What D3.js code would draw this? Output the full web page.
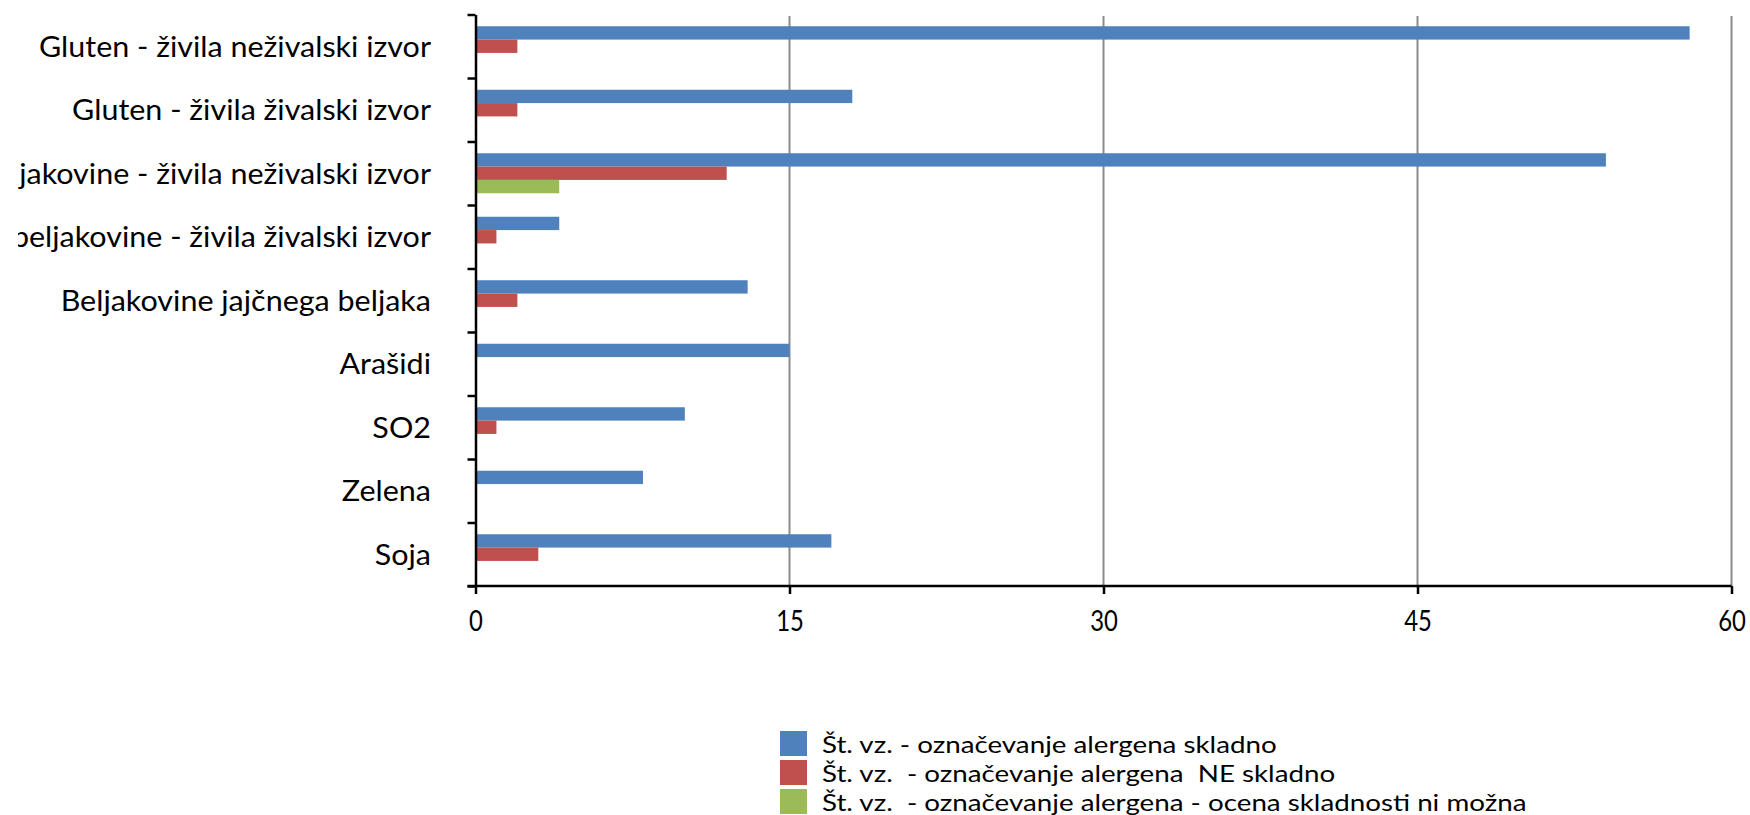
<!DOCTYPE html>
<html>
<head>
<meta charset="utf-8">
<script src="https://cdn.jsdelivr.net/npm/d3@7"></script>
<style>
  html, body { margin: 0; padding: 0; background: #fff; overflow: hidden; }
  svg text { white-space: pre; }
</style>
</head>
<body>
<svg id="chart" width="1750" height="815"></svg>
<script>
// Categories (top to bottom)
const categories = [
  "Gluten - živila neživalski izvor",
  "Gluten - živila živalski izvor",
  "Mlečne beljakovine - živila neživalski izvor",
  "Mlečne beljakovine - živila živalski izvor",
  "Beljakovine jajčnega beljaka",
  "Arašidi",
  "SO2",
  "Zelena",
  "Soja"
];

// Series names (legend order)
const seriesNames = [
  "Št. vz. - označevanje alergena skladno",
  "Št. vz.  - označevanje alergena  NE skladno",
  "Št. vz.  - označevanje alergena - ocena skladnosti ni možna"
];

// Series values, one per category
const skladno   = [58, 18, 54, 4, 13, 15, 10, 8, 17];
const neSkladno = [2, 2, 12, 1, 2, 0, 1, 0, 3];
const niMozna   = [0, 0, 4, 0, 0, 0, 0, 0, 0];

const seriesColors = ["#4F81BD", "#C0504D", "#9BBB59"];

// Value axis
const xDomain = [0, 60];
const xTicks = [0, 15, 30, 45, 60];

const seriesValues = [skladno, neSkladno, niMozna];

const svg = d3.select("#chart");
const FONT = "Lato, 'Open Sans', sans-serif";

const plot = { left: 475.5, right: 1731.5, top: 14.5, bottom: 586 };

const x = d3.scaleLinear().domain(xDomain).range([plot.left, plot.right]);
const y = d3.scaleBand()
  .domain(categories)
  .range([plot.top, plot.bottom])
  .paddingInner(0.37)
  .paddingOuter(0.185);
const ySub = d3.scaleBand().domain(d3.range(seriesNames.length)).range([0, y.bandwidth()]);

// Horizontal squeeze factor so the label font reads as a narrow face
function squeeze(str, size, target) {
  const t = svg.append("text").attr("font-family", FONT).attr("font-size", size).text(str);
  const w = t.node().getComputedTextLength();
  t.remove();
  return target / w;
}
const LABEL_SIZE = 29;
const sx = squeeze(categories[0], LABEL_SIZE, 392);
const TICK_SIZE = 28;
const sxT = squeeze("15", TICK_SIZE, 27.7);

// Clip region for the category labels (long names run off the left edge)
svg.append("defs").append("clipPath").attr("id", "labelClip")
  .append("rect").attr("x", 18).attr("y", 0).attr("width", 1750).attr("height", 815);

// Vertical gridlines
svg.append("g")
  .selectAll("line")
  .data(xTicks.filter(d => d > 0))
  .join("line")
  .attr("x1", d => x(d)).attr("x2", d => x(d))
  .attr("y1", plot.top + 1.5).attr("y2", plot.bottom)
  .attr("stroke", "#8c8c8c")
  .attr("stroke-width", 2);

// Bars
const rows = categories.map((c, i) => ({ cat: c, vals: seriesValues.map(s => s[i]) }));
const groups = svg.append("g").selectAll("g")
  .data(rows)
  .join("g")
  .attr("transform", d => `translate(0,${y(d.cat)})`);

groups.selectAll("rect")
  .data(d => d.vals.map((v, k) => ({ v, k })))
  .join("rect")
  .attr("x", x(0))
  .attr("y", d => ySub(d.k))
  .attr("width", d => x(d.v) - x(0))
  .attr("height", ySub.bandwidth())
  .attr("fill", d => seriesColors[d.k]);

// Category axis: line with ticks at category boundaries
const yEdges = d3.scaleLinear().domain([0, categories.length]).range([plot.top, plot.bottom]);
const yAxisG = svg.append("g")
  .attr("transform", `translate(${plot.left},0)`)
  .call(d3.axisLeft(yEdges).tickValues(d3.range(categories.length + 1)).tickSize(8).tickSizeOuter(0).tickFormat(""));
yAxisG.selectAll("path, line").attr("stroke", "#000").attr("stroke-width", 2.5);

// Category labels
const labelG = svg.append("g")
  .attr("clip-path", "url(#labelClip)")
  .append("g")
  .attr("transform", `translate(${plot.left},0)`)
  .call(d3.axisLeft(y).tickSize(0).tickPadding(0));
labelG.select(".domain").remove();
labelG.selectAll("text")
  .attr("x", 0).attr("dy", null)
  .attr("font-family", FONT)
  .attr("font-size", LABEL_SIZE)
  .attr("fill", "#000")
  .attr("text-anchor", "end")
  .attr("transform", `translate(-44.5,${LABEL_SIZE * 0.37}) scale(${sx},1)`);

// Value axis
const xAxisG = svg.append("g")
  .attr("transform", `translate(0,${plot.bottom})`)
  .call(d3.axisBottom(x).tickValues(xTicks).tickSize(8).tickSizeOuter(0));
xAxisG.select(".domain").attr("d", `M${plot.left - 8},0H${plot.right}`);
xAxisG.selectAll("path, line").attr("stroke", "#000").attr("stroke-width", 2.5);
xAxisG.selectAll("text")
  .attr("y", 45).attr("dy", null)
  .attr("font-family", FONT)
  .attr("font-size", TICK_SIZE)
  .attr("fill", "#000")
  .attr("transform", `scale(${sxT},1)`);

// Legend
const LEG_SIZE = 22.5;
const sxL = squeeze(seriesNames[0], LEG_SIZE, 455);
const legend = svg.append("g").attr("transform", "translate(780,731)");
const items = legend.selectAll("g")
  .data(seriesNames)
  .join("g")
  .attr("transform", (d, i) => `translate(0,${i * 29})`);
items.append("rect")
  .attr("width", 27).attr("height", 25)
  .attr("fill", (d, i) => seriesColors[i]);
items.append("text")
  .attr("font-family", FONT)
  .attr("font-size", LEG_SIZE)
  .attr("fill", "#000")
  .attr("transform", `translate(42,22) scale(${sxL},1)`)
  .text(d => d);
</script>
</body>
</html>
